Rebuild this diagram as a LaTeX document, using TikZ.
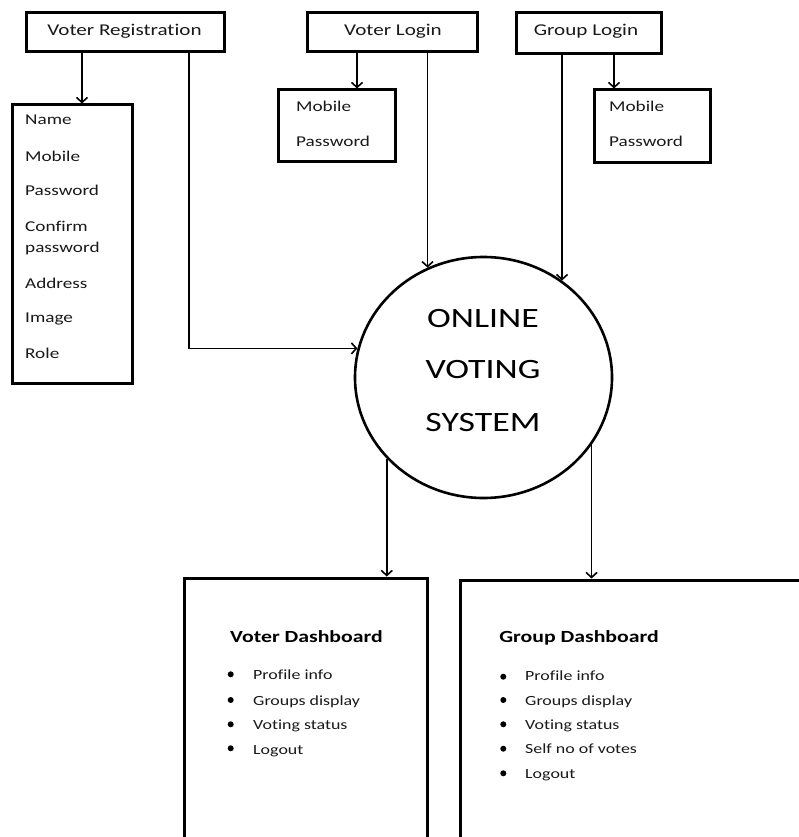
\documentclass[tikz,border=0pt]{standalone}
\usepackage{fontspec}
\setmainfont{Carlito}[FakeStretch=1.28, Ligatures=NoCommon]
\usetikzlibrary{arrows.meta,shapes.geometric}
\tikzset{
  box/.style={draw=black, line width=3pt, rectangle, inner sep=0pt},
  arr/.style={line width=1.7pt, -{Straight Barb[length=5pt,width=11pt,line width=1.6pt]}},
  txt/.style={anchor=base west, inner sep=0pt, font=\fontsize{15}{18}\selectfont, text=black!90},
  toptxt/.style={anchor=base, inner sep=0pt, font=\fontsize{16.5}{20}\selectfont, text=black!90},
  bigtxt/.style={anchor=base, inner sep=0pt, font=\fontsize{28}{32}\selectfont},
  titletxt/.style={anchor=base, inner sep=0pt, font=\bfseries\fontsize{17}{20}\selectfont},
  itemtxt/.style={anchor=base west, inner sep=0pt, font=\fontsize{14}{17}\selectfont, text=black!90},
  dot/.style={circle, fill=black, inner sep=0pt, minimum size=6pt},
}
\begin{document}
\begin{tikzpicture}[x=1pt, y=-1pt]
\useasboundingbox (0,0) rectangle (799,837);
\fill[white] (0,0) rectangle (799,837);
\clip (0,0) rectangle (799,837);

% top boxes
\node[box, minimum width=198pt, minimum height=39pt] (vr) at (125,32.5) {};
\node[toptxt] (vrt) at (124.5,36) {Voter Registration};
\node[box, minimum width=170pt, minimum height=39pt] (vl) at (392,32.5) {};
\node[toptxt] (vlt) at (393,36) {Voter Login};
\node[box, minimum width=145pt, minimum height=41pt] (gl) at (588.5,33.5) {};
\node[toptxt] (glt) at (586,36) {Group Login};

% registration fields box
\node[box, minimum width=120pt, minimum height=278pt] (nb) at (72,244) {};
\node[txt] (f1) at (25,125) {Name};
\node[txt] (f2) at (25,162) {Mobile};
\node[txt] (f3) at (25,195) {Password};
\node[txt] (f4) at (25,231.5) {Confirm};
\node[txt] (f5) at (25,252) {password};
\node[txt] (f6) at (25,288) {Address};
\node[txt] (f7) at (25,322.5) {Image};
\node[txt] (f8) at (25,358) {Role};

% login fields boxes
\node[box, minimum width=117pt, minimum height=72pt] (vlb) at (336.5,126) {};
\node[txt] (vlb1) at (296,112) {Mobile};
\node[txt] (vlb2) at (296,147) {Password};
\node[box, minimum width=116pt, minimum height=73pt] (glb) at (652,126.5) {};
\node[txt] (glb1) at (609,112) {Mobile};
\node[txt] (glb2) at (609,147) {Password};

% central process
\node[draw=black, line width=2.6pt, ellipse, minimum width=257pt, minimum height=241pt, inner sep=0pt] (ovs) at (483.5,377.5) {};
\node[bigtxt] (o1) at (483,327) {ONLINE};
\node[bigtxt] (o2) at (483,378) {VOTING};
\node[bigtxt] (o3) at (483,431.5) {SYSTEM};

% dashboards
\node[box, minimum width=243pt, minimum height=272pt] (vd) at (305.5,714) {};
\node[titletxt] (vdt) at (306.5,642) {Voter Dashboard};
\foreach \t/\yb/\yd [count=\i] in {Profile info/679/674.3, Groups display/705/700, Voting status/729/724.3, Logout/754/748.3}{
  \node[dot] (vdd\i) at (230.7,\yd) {};
  \node[itemtxt] (vdi\i) at (253,\yb) {\t};
}
\node[box, minimum width=370pt, minimum height=270pt] (gd) at (645,715) {};
\node[titletxt] (gdt) at (579,642) {Group Dashboard};
\foreach \t/\yb/\yd [count=\i] in {Profile info/680.5/676.7, Groups display/705.5/700, Voting status/729.3/724.3, Self no of votes/753.3/748.7, Logout/778/773.3}{
  \node[dot] (gdd\i) at (503.3,\yd) {};
  \node[itemtxt] (gdi\i) at (525,\yb) {\t};
}

% connector x positions
\coordinate (p1) at (82,0);
\coordinate (p2) at (189,0);
\coordinate (p3) at (357,0);
\coordinate (p6) at (614,0);

% connectors
\draw[arr] (vr.south -| p1) -- (nb.north -| p1);
\draw[arr] (vr.south -| p2) |- (ovs.167);
\draw[arr] (vl.south -| p3) -- (vlb.north -| p3);
\draw[arr] (vl.south -| ovs.117) -- (ovs.117);
\draw[arr] (gl.south -| ovs.51) -- (ovs.51);
\draw[arr] (gl.south -| p6) -- (glb.north -| p6);
\draw[arr] (ovs.220) -- (ovs.220 |- vd.north);
\draw[arr] (ovs.328) -- (ovs.328 |- gd.north);
\end{tikzpicture}
\end{document}
